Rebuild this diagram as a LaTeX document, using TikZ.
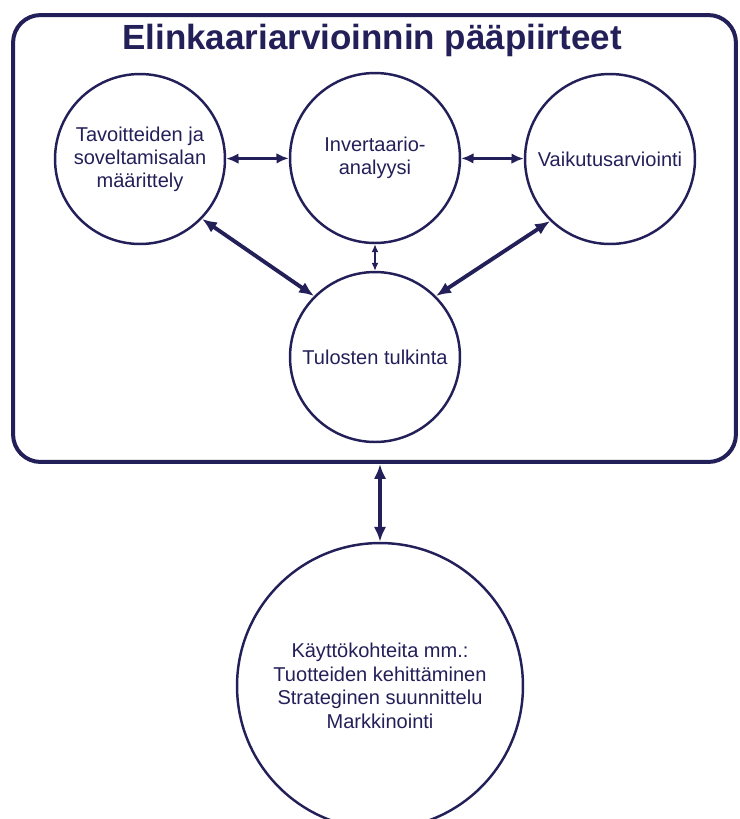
\documentclass[tikz,border=0pt]{standalone}
\usepackage{fontspec}
\setmainfont{Liberation Sans}
\usetikzlibrary{arrows.meta}
\definecolor{navy}{RGB}{35,31,88}

\begin{document}
\begin{tikzpicture}[x=0.02cm,y=-0.02cm,navy,
  phase/.style={circle,draw,line width=1.4pt,minimum size=3.4cm,inner sep=0pt,align=center,font=\fontsize{11.4}{13}\selectfont},
  bigarrow/.style={line width=2.2pt,{Latex[length=8.5pt,width=7pt]}-{Latex[length=8.5pt,width=7pt]}},
  midarrow/.style={line width=1.6pt,{Latex[length=7pt,width=6pt]}-{Latex[length=7pt,width=6pt]}},
  smallarrow/.style={line width=0.9pt,{Latex[length=4.5pt,width=4pt]}-{Latex[length=4.5pt,width=4pt]}}]
\useasboundingbox (0,0) rectangle (740,819);
\node[draw,line width=2.27pt,rounded corners=0.55cm,minimum width=14.46cm,minimum height=8.94cm] (frame) at (374.5,238.5) {};
\node[font=\fontsize{19.9}{24}\selectfont\bfseries] (title) at (372,40) {Elinkaariarvioinnin pääpiirteet};
\node[phase] (goal) at (140,159) {Tavoitteiden ja\\soveltamisalan\\määrittely};
\node[phase] (inv) at (375,158) {Invertaario-\\analyysi};
\node[phase] (imp) at (610,159) {Vaikutusarviointi};
\node[phase] (tul) at (375,357) {Tulosten tulkinta};
\node[phase,minimum size=5.72cm,font=\fontsize{11.4}{13.4}\selectfont] (use) at (380,686) {Käyttökohteita mm.:\\Tuotteiden kehittäminen\\Strateginen suunnittelu\\Markkinointi};
% yhteydet
\draw[midarrow] (goal) -- (inv);
\draw[midarrow] (inv) -- (imp);
\draw[smallarrow] (inv) -- (tul);
\draw[bigarrow] (goal.-44) -- (tul.135);
\draw[bigarrow] (imp.-134) -- (tul.45);
\draw[bigarrow] (frame.south -| use.north) -- (use.north);
\end{tikzpicture}
\end{document}
